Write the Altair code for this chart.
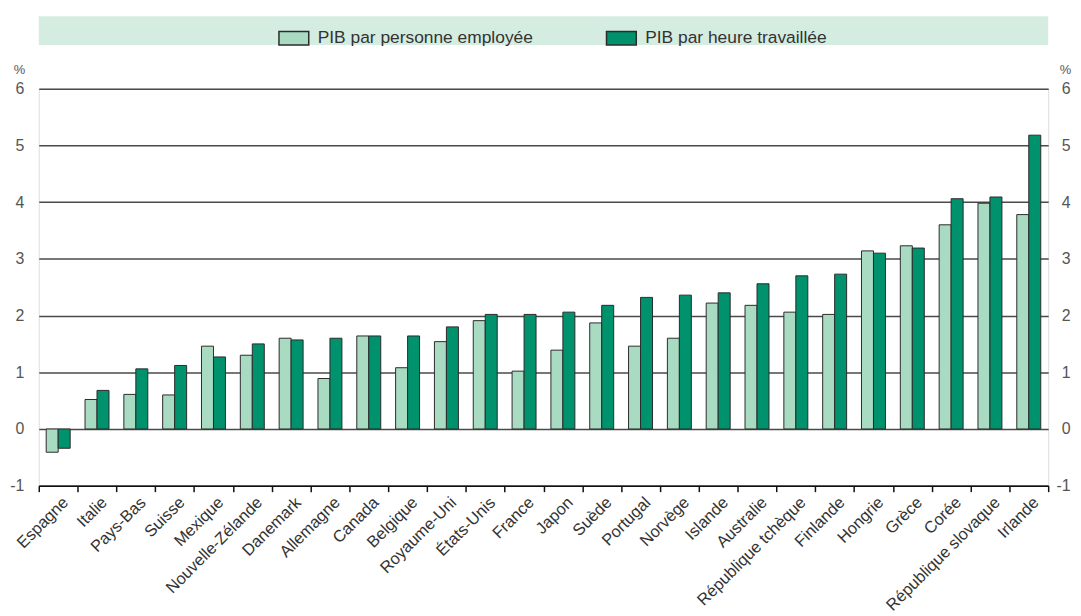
import altair as alt
import pandas as pd

countries = ["Espagne", "Italie", "Pays-Bas", "Suisse", "Mexique", "Nouvelle-Zélande",
             "Danemark", "Allemagne", "Canada", "Belgique", "Royaume-Uni", "États-Unis",
             "France", "Japon", "Suède", "Portugal", "Norvège", "Islande", "Australie",
             "République tchèque", "Finlande", "Hongrie", "Grèce", "Corée",
             "République slovaque", "Irlande"]
per_employee = [-0.41, 0.52, 0.61, 0.60, 1.46, 1.30, 1.60, 0.89, 1.64, 1.08, 1.54, 1.91,
                1.02, 1.39, 1.87, 1.46, 1.60, 2.22, 2.18, 2.06, 2.02, 3.14, 3.23, 3.60,
                3.98, 3.78]
per_hour = [-0.34, 0.68, 1.06, 1.12, 1.27, 1.50, 1.57, 1.60, 1.64, 1.64, 1.80, 2.02,
            2.02, 2.06, 2.18, 2.32, 2.36, 2.40, 2.56, 2.70, 2.73, 3.10, 3.19, 4.06,
            4.09, 5.18]
series_names = ["PIB par personne employée", "PIB par heure travaillée"]
y_ticks = [-1, 0, 1, 2, 3, 4, 5, 6]

rows = []
for c, e, h in zip(countries, per_employee, per_hour):
    rows.append({"pays": c, "serie": series_names[0], "valeur": e})
    rows.append({"pays": c, "serie": series_names[1], "valeur": h})
df = pd.DataFrame(rows)

W, H = 1017, 400
FONT = "Liberation Sans"
LIGHT = "#a9dbc3"
DARK = "#00916d"
GRAY = "#555555"

yscale = alt.Scale(domain=[-1, 6], nice=False)

strip = alt.Chart(pd.DataFrame({"k": [0]})).mark_rect(color="#d5ece1").encode(
    x=alt.value(0), x2=alt.value(W), y=alt.value(-73), y2=alt.value(-44)
)

bars = alt.Chart(df).mark_bar(stroke="#2b2b2b", strokeWidth=1).encode(
    x=alt.X("pays:N", sort=countries,
            scale=alt.Scale(paddingInner=0, paddingOuter=0),
            axis=alt.Axis(title=None, labelAngle=-45, labelAlign="right", labelBaseline="middle",
                          tickBand="extent", labelPadding=8, labelOffset=7,
                          labelFontSize=16.5, labelColor="#333333", labelFont=FONT,
                          domainColor="#111111", domainWidth=1.5, tickColor="#111111",
                          tickWidth=1.5, tickSize=6, labelOverlap=False, grid=False)),
    xOffset=alt.XOffset("serie:N", sort=series_names,
                        scale=alt.Scale(domain=series_names, paddingOuter=0.62, paddingInner=0)),
    y=alt.Y("valeur:Q", scale=yscale,
            axis=alt.Axis(orient="left", values=y_ticks, labelExpr="'' + datum.value",
                          title="%", titleAngle=0,
                          titleX=-20, titleY=-15, titleAlign="center", titleBaseline="alphabetic",
                          titleFontSize=13, titleFontWeight="normal", titleColor=GRAY,
                          titleFont=FONT, labelFontSize=16, labelColor=GRAY, labelFont=FONT,
                          labelPadding=15, domain=False, ticks=False, grid=True,
                          gridColor="#4a4a4a", gridWidth=1.5)),
    color=alt.Color("serie:N", sort=series_names,
                    scale=alt.Scale(domain=series_names, range=[LIGHT, DARK]),
                    legend=alt.Legend(orient="none", legendX=241, legendY=-67,
                                      direction="horizontal", title=None,
                                      symbolType="M-1,-0.45L1,-0.45L1,0.45L-1,0.45Z",
                                      symbolSize=900, symbolStrokeColor="#2b2b2b",
                                      symbolStrokeWidth=1.5, symbolOpacity=1,
                                      labelFontSize=17.5, labelFont=FONT, labelColor="#333333",
                                      labelOffset=8, columnPadding=71, padding=0,
                                      labelLimit=400)),
)

ghost = alt.Chart(df).mark_tick(opacity=0).encode(
    y=alt.Y("valeur:Q", scale=yscale,
            axis=alt.Axis(orient="right", values=y_ticks, labelExpr="'' + datum.value",
                          title="%", titleAngle=0,
                          titleX=17, titleY=-15, titleAlign="center", titleBaseline="alphabetic",
                          titleFontSize=13, titleFontWeight="normal", titleColor=GRAY,
                          titleFont=FONT, labelFontSize=16, labelColor=GRAY, labelFont=FONT,
                          labelAlign="right", labelPadding=22,
                          domain=False, ticks=False, grid=False))
)

chart = alt.layer(strip, bars, ghost).resolve_axis(y="independent").properties(
    width=W, height=H,
    padding={"left": 31, "top": 79, "right": 25, "bottom": 129},
    autosize=alt.AutoSizeParams(type="none"),
).configure_view(stroke=None).configure(font=FONT, background="white")

chart.save("out.html", embed_options={"renderer": "svg", "actions": False})
